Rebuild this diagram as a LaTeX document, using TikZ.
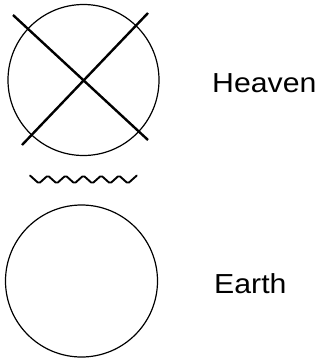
\documentclass[tikz,border=0pt]{standalone}
\usepackage{fontspec}
\setmainfont{Liberation Sans}
\begin{document}
\begin{tikzpicture}[x=1pt,y=-1pt,
  ring/.style={draw, circle, line width=1.2pt, inner sep=0pt},
  crossline/.style={line width=2.4pt, line cap=butt},
  wavy/.style={line width=1.9pt, line join=round, line cap=round, rounded corners=1.5pt},
  label/.style={anchor=base west, inner sep=0pt, font=\fontsize{27.5}{32}\selectfont, xscale=1.1}]
\useasboundingbox (0,0) rectangle (321,360);
\node[ring, minimum size=151pt] (heaven) at (83.5,80) {};
\node[ring, minimum size=152pt] (earth) at (81.5,281) {};
\coordinate (a1) at (13,15);
\coordinate (a2) at (148,140);
\coordinate (b1) at (148,13);
\coordinate (b2) at (22,145);
\draw[crossline] (a1) -- (a2);
\draw[crossline] (b1) -- (b2);
\coordinate (w0) at (30,175.5);
\draw[wavy] (w0) \foreach \k in {0,...,5} { -- ++(8.9,8) -- ++(8.9,-8) };
\node[label] (th) at (212,92.7) {Heaven};
\node[label] (te) at (214,293.3) {Earth};
\end{tikzpicture}
\end{document}
